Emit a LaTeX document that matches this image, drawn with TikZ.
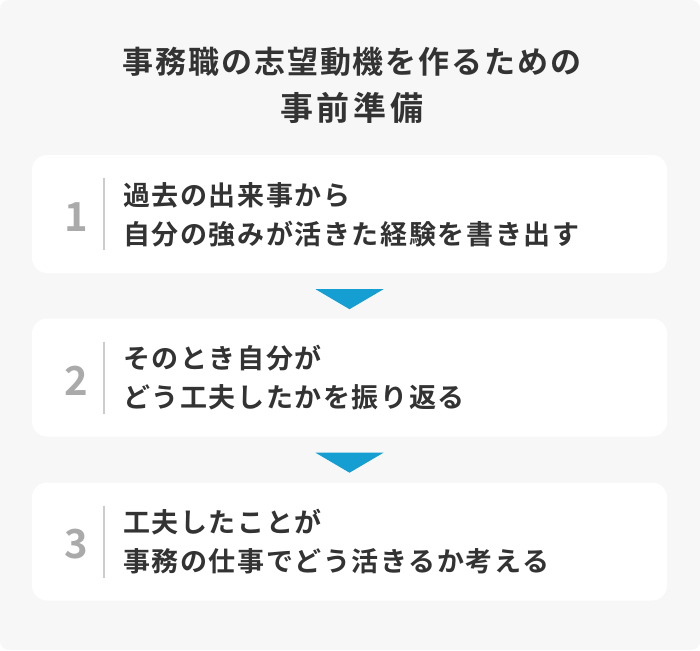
\documentclass[tikz,border=0pt]{standalone}
\usepackage{fontspec}
\usetikzlibrary{calc}
\newfontfamily\titleA{Noto Sans CJK JP Bold}[LetterSpace=6]
\newfontfamily\titleB{Noto Sans CJK JP Bold}[LetterSpace=12]
\newfontfamily\bodyjp{Noto Sans CJK JP Bold}[LetterSpace=6]
\newfontfamily\numjp{Noto Sans CJK JP Bold}
\definecolor{bgray}{HTML}{F7F7F7}
\definecolor{txt}{HTML}{333333}
\definecolor{numgray}{HTML}{AAAAAA}
\definecolor{divgray}{HTML}{CCCCCC}
\definecolor{arrowblue}{HTML}{149ED2}
\tikzset{
  card/.style={fill=white, rounded corners=15pt, minimum width=635pt, minimum height=118pt, inner sep=0pt},
  numlabel/.style={text=numgray, font=\numjp\fontsize{40}{40}\selectfont, inner sep=0pt},
  bodytext/.style={text=txt, font=\bodyjp\fontsize{27}{39}\selectfont, align=left, anchor=west, inner sep=0pt},
  divider/.style={draw=divgray, line width=1.5pt},
  downtri/.style={fill=arrowblue},
}
\begin{document}
\begin{tikzpicture}[x=1pt,y=-1pt]
\useasboundingbox (0,0) rectangle (700,650);
\fill[white] (0,0) rectangle (700,650);
\fill[bgray, rounded corners=9pt] (0,0) rectangle (700,650);
% title
\node[text=txt, font=\titleA\fontsize{31}{31}\selectfont, inner sep=0pt] (t1) at (352,62) {事務職の志望動機を作るための};
\node[text=txt, font=\titleB\fontsize{33}{33}\selectfont, inner sep=0pt] (t2) at (352,108) {事前準備};
% cards
\node[card] (c1) at (349.5,214) {};
\node[card] (c2) at (349.5,377.5) {};
\node[card] (c3) at (349.5,541.5) {};
% numbers
\node[numlabel] (n1) at ($(c1.west)+(44,3)$) {1};
\node[numlabel] (n2) at ($(c2.west)+(44,3)$) {2};
\node[numlabel] (n3) at ($(c3.west)+(44,3)$) {3};
% dividers
\coordinate (d1) at ($(c1.west)+(72,0)$);
\coordinate (d2) at ($(c2.west)+(72,0)$);
\coordinate (d3) at ($(c3.west)+(72,0)$);
\draw[divider] ($(d1)+(0,-36)$) -- ($(d1)+(0,36)$);
\draw[divider] ($(d2)+(0,-36)$) -- ($(d2)+(0,36)$);
\draw[divider] ($(d3)+(0,-36)$) -- ($(d3)+(0,36)$);
% texts
\node[bodytext] (b1) at ($(c1.west)+(91,0.5)$) {過去の出来事から\\自分の強みが活きた経験を書き出す};
\node[bodytext] (b2) at ($(c2.west)+(91,0.5)$) {そのとき自分が\\どう工夫したかを振り返る};
\node[bodytext] (b3) at ($(c3.west)+(91,0.5)$) {工夫したことが\\事務の仕事でどう活きるか考える};
% arrows
\fill[downtri] ($(c1.south)+(-34,16)$) -- ($(c1.south)+(34,16)$) -- ($(c1.south)+(0,36)$) -- cycle;
\fill[downtri] ($(c2.south)+(-34,16)$) -- ($(c2.south)+(34,16)$) -- ($(c2.south)+(0,36)$) -- cycle;
\end{tikzpicture}
\end{document}
